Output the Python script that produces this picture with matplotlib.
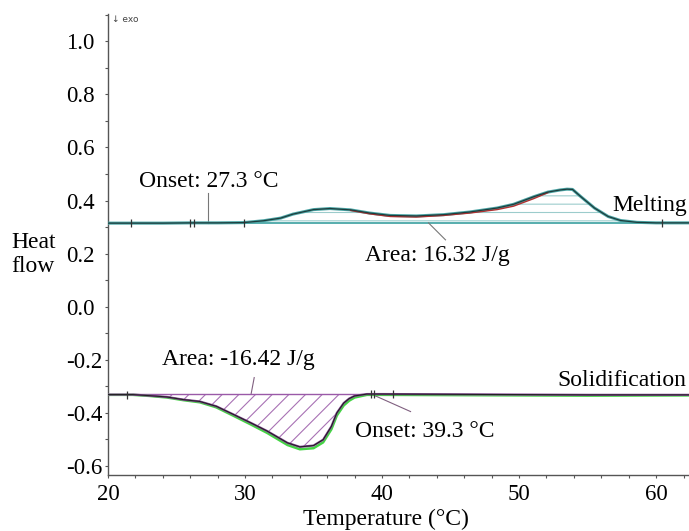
import matplotlib
matplotlib.use("Agg")
import matplotlib.pyplot as plt
import numpy as np
from matplotlib.ticker import MultipleLocator, FormatStrFormatter

plt.rcParams['font.family'] = ['Liberation Serif', 'DejaVu Serif']
plt.rcParams['axes.unicode_minus'] = False
plt.rcParams['hatch.linewidth'] = 0.8

# ---------------- data ----------------
melt_T = [20, 22, 24, 26, 28, 29.9, 31.35, 32.6, 33.5, 35.0, 36.2, 37.7, 39.1,
          40.6, 42.5, 44.5, 46.4, 48.4, 49.6, 51.1, 52.1, 53.0, 53.5, 53.9,
          54.5, 55.5, 56.5, 57.4, 58.6, 60, 62.4]
melt_V = [0.315, 0.315, 0.315, 0.316, 0.316, 0.317, 0.324, 0.334, 0.349, 0.366,
          0.370, 0.365, 0.353, 0.344, 0.342, 0.347, 0.357, 0.372, 0.386, 0.415,
          0.432, 0.440, 0.443, 0.442, 0.415, 0.372, 0.340, 0.325, 0.318, 0.316,
          0.316]
melt_red_T = [37.7, 39.1, 40.6, 42.5, 44.5, 46.4, 48.4, 49.6, 51.1, 52.1]
melt_red_V = [0.363, 0.350, 0.340, 0.338, 0.344, 0.353, 0.366, 0.379, 0.408, 0.430]
melt_base = 0.316
melt_area_range = [29.9, 58.6]

sol_T = [20, 21.8, 23, 24.3, 25.5, 26.7, 27.9, 29.2, 30.4, 31.6, 33.1, 34.0,
         35.0, 35.7, 36.3, 36.7, 37.2, 37.6, 38.0, 38.9, 40, 45, 50, 55, 62.4]
sol_V = [-0.331, -0.331, -0.335, -0.340, -0.350, -0.357, -0.375, -0.407,
         -0.437, -0.468, -0.513, -0.528, -0.523, -0.501, -0.451, -0.400,
         -0.363, -0.346, -0.336, -0.329, -0.329, -0.330, -0.331, -0.332, -0.332]
sol_green_V = [-0.332, -0.332, -0.336, -0.342, -0.352, -0.360, -0.379, -0.412,
               -0.443, -0.475, -0.521, -0.537, -0.533, -0.511, -0.462, -0.410,
               -0.372, -0.354, -0.342, -0.332, -0.332, -0.333, -0.334, -0.335,
               -0.334]
sol_base = -0.330
sol_area_range = [21.8, 38.9]

melt_marks = [21.7, 26.0, 26.3, 29.9, 60.4]
sol_marks = [21.4, 39.2, 39.4, 40.8]

x_ticks = [20, 30, 40, 50, 60]
y_ticks = [-0.6, -0.4, -0.2, 0.0, 0.2, 0.4, 0.6, 0.8, 1.0]

# ---------------- figure ----------------
fig = plt.figure(figsize=(6.89, 5.31), dpi=100)
ax = fig.add_axes([108/689, 56/531, 1 - 108/689, (475 - 14)/531])
ax.set_xlim(20, 62.4)
ax.set_ylim(-0.634, 1.103)

mT = np.array(melt_T); mV = np.array(melt_V)
sT = np.array(sol_T); sV = np.array(sol_V); sG = np.array(sol_green_V)

# melting area hatch
mask = (mT >= melt_area_range[0]) & (mT <= melt_area_range[1])
ax.fill_between(mT[mask], melt_base, mV[mask], facecolor='none',
                edgecolor='#9ccccc', hatch='--', linewidth=0)
ax.axhline(melt_base, color='#3aa0a0', lw=1.2, zorder=2)
ax.plot(mT, mV, color='#4aa5a5', lw=2.2, zorder=3)
ax.plot(melt_red_T, melt_red_V, color='#b03030', lw=1.0, zorder=3)
ax.plot(mT, mV, color='#1e3c3c', lw=0.9, zorder=4)
ax.plot(melt_marks, np.interp(melt_marks, mT, mV), ls='none', marker='|',
        ms=6, mew=0.9, color='#333333', zorder=5)

# solidification area hatch
mask = (sT >= sol_area_range[0]) & (sT <= sol_area_range[1])
ax.fill_between(sT[mask], sol_base, sV[mask], facecolor='none',
                edgecolor='#a872b4', hatch='//', linewidth=0)
ax.plot(sol_area_range, [sol_base, sol_base], color='#9a5aa8', lw=1.0, zorder=3)
ax.plot(sT, sG, color='#44d444', lw=1.8, zorder=3)
ax.plot(sT, sV, color='#8a4a9a', lw=1.6, zorder=4)
ax.plot(sT, sV, color='#222222', lw=0.8, zorder=5)
ax.plot(sol_marks, np.interp(sol_marks, sT, sV), ls='none', marker='|',
        ms=6, mew=0.9, color='#333333', zorder=6)

# annotations
fs = 17
ax.plot([27.3, 27.3], [0.316, 0.429], color='#777777', lw=0.8)
ax.text(22.27, 0.453, 'Onset: 27.3 °C', fontsize=fs, va='baseline', ha='left')
ax.plot([44.63, 43.39], [0.252, 0.316], color='#777777', lw=0.8)
ax.text(38.79, 0.171, 'Area: 16.32 J/g', fontsize=fs, va='baseline', ha='left')
ax.text(0.996, 0.359, 'Melting', fontsize=fs, va='baseline', ha='right',
        transform=ax.get_yaxis_transform())

ax.plot([30.67, 30.45], [-0.267, -0.327], color='#806080', lw=0.8)
ax.text(23.95, -0.218, 'Area: -16.42 J/g', fontsize=fs, va='baseline', ha='left')
ax.plot([39.3, 42.08], [-0.331, -0.395], color='#806080', lw=0.8)
ax.text(38.06, -0.489, 'Onset: 39.3 °C', fontsize=fs, va='baseline', ha='left')
ax.text(0.996, -0.300, 'Solidification', fontsize=fs, va='baseline', ha='right',
        transform=ax.get_yaxis_transform())

# axes styling
for s in ['top', 'right']:
    ax.spines[s].set_visible(False)
for s in ['left', 'bottom']:
    ax.spines[s].set_color('#555555')
    ax.spines[s].set_linewidth(1.0)

ax.set_xticks(x_ticks)
ax.set_yticks(y_ticks)
ax.xaxis.set_minor_locator(MultipleLocator(2))
ax.yaxis.set_minor_locator(MultipleLocator(0.1))
ax.yaxis.set_major_formatter(FormatStrFormatter('%.1f'))
ax.tick_params(axis='both', which='major', direction='out', length=2.5,
               width=0.8, color='#555555', labelsize=16.5)
ax.tick_params(axis='both', which='minor', direction='out', length=2.0,
               width=0.8, color='#555555')
ax.tick_params(axis='x', which='major', pad=4)
ax.tick_params(axis='y', which='major', pad=27.7)
for lab in ax.get_yticklabels():
    lab.set_horizontalalignment('left')

fig.text(11/689, 1 - 248/531, 'Heat', fontsize=fs, ha='left', va='baseline')
fig.text(11/689, 1 - 272/531, 'flow', fontsize=fs, ha='left', va='baseline')
fig.text(386/689, 1 - 519/531, 'Temperature (°C)', fontsize=fs, ha='center',
         va='center')
fig.text(112/689, 1 - 20/531, '↓ exo', fontsize=6.5, ha='left', va='center',
         family=['DejaVu Sans'], color='#444444')

fig.savefig('out.png', dpi=100)
